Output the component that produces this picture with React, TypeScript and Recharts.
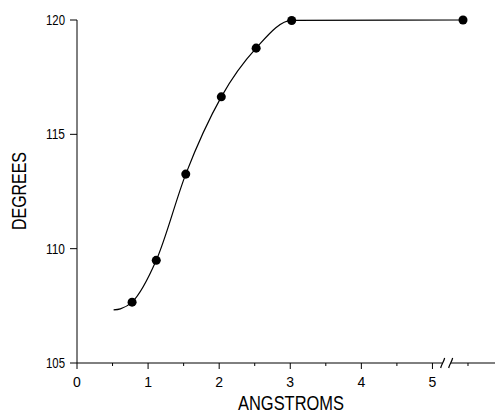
import React from "react";
import {
  ComposedChart,
  Line,
  Scatter,
  XAxis,
  YAxis,
  ReferenceLine,
  ReferenceDot,
  Label,
} from "recharts";

// measured points (angstroms, degrees)
const measuredX = [0.775, 1.115, 1.53, 2.03, 2.52, 3.02, 5.43];
const measuredY = [107.66, 109.49, 113.26, 116.64, 118.77, 119.98, 120];

// fitted curve
const curveX = [0.515, 0.61, 0.775, 1.115, 1.53, 2.03, 2.52, 3.02, 5.43];
const curveY = [107.32, 107.37, 107.66, 109.49, 113.26, 116.64, 118.77, 119.98, 120];

const xTicks = [0, 0.5, 1, 1.5, 2, 2.5, 3, 3.5, 4, 4.5, 5, 5.5];
const yTicks = [105, 110, 115, 120];

const points = measuredX.map((x, i) => ({ x, y: measuredY[i] }));
const curve = curveX.map((x, i) => ({ x, y: curveY[i] }));

const FONT = "'Liberation Sans', Arial, sans-serif";
const TICK_SIZE = 6;
const TICK_MARGIN = 4;

const XTick = (props: any) => {
  const { x, y, payload } = props;
  const v = payload.value;
  const major = Number.isInteger(v);
  const axisY = y - TICK_SIZE - TICK_MARGIN;
  return (
    <g>
      <line x1={x} x2={x} y1={axisY} y2={axisY + (major ? 6 : 3)} stroke="#000" strokeWidth={1} />
      {major && (
        <text x={x} y={axisY + 24} textAnchor="middle" fontFamily={FONT} fontSize={14} fill="#000">
          {v}
        </text>
      )}
    </g>
  );
};

const YTick = (props: any) => {
  const { x, y, payload } = props;
  return (
    <text
      x={x}
      y={y + 5}
      textAnchor="end"
      fontFamily={FONT}
      fontSize={14}
      fill="#000"
      textLength={19}
      lengthAdjust="spacingAndGlyphs"
    >
      {payload.value}
    </text>
  );
};

const BreakMark = (props: any) => {
  const { cx, cy } = props;
  const s = (dx: number) =>
    `M${cx + dx - 2},${cy + 5} C${cx + dx - 1},${cy + 1} ${cx + dx + 1},${cy - 1} ${cx + dx + 2},${cy - 5}`;
  return (
    <g>
      <path d={s(-4)} stroke="#000" strokeWidth={1.2} fill="none" />
      <path d={s(4)} stroke="#000" strokeWidth={1.2} fill="none" />
    </g>
  );
};

export default function App() {
  return (
    <div style={{ position: "absolute", left: 0, top: 0, background: "#fff" }}>
      <ComposedChart width={495} height={414} margin={{ top: 20, right: 0, bottom: 0, left: 0 }}>
        <XAxis
          type="number"
          dataKey="x"
          domain={[0, 5.88]}
          ticks={xTicks}
          interval={0}
          allowDataOverflow
          axisLine={false}
          tickLine={false}
          tickSize={TICK_SIZE}
          tickMargin={TICK_MARGIN}
          tick={<XTick />}
          height={51}
        >
          <Label
            content={() => (
              <text
                x={291}
                y={410}
                textAnchor="middle"
                fontFamily={FONT}
                fontSize={20}
                fill="#000"
                textLength={106}
                lengthAdjust="spacingAndGlyphs"
              >
                ANGSTROMS
              </text>
            )}
          />
        </XAxis>
        <YAxis
          type="number"
          domain={[105, 120]}
          ticks={yTicks}
          interval={0}
          width={77}
          axisLine={{ stroke: "#000" }}
          tickLine={{ stroke: "#000" }}
          tickSize={7}
          tickMargin={5}
          tick={<YTick />}
        >
          <Label
            content={() => (
              <text
                x={26}
                y={191}
                transform="rotate(-90, 26, 191)"
                textAnchor="middle"
                fontFamily={FONT}
                fontSize={20}
                fill="#000"
                textLength={78}
                lengthAdjust="spacingAndGlyphs"
              >
                DEGREES
              </text>
            )}
          />
        </YAxis>
        <ReferenceLine segment={[{ x: 0, y: 105 }, { x: 5.14, y: 105 }]} stroke="#000" strokeWidth={1} />
        <ReferenceLine segment={[{ x: 5.26, y: 105 }, { x: 5.88, y: 105 }]} stroke="#000" strokeWidth={1} />
        <ReferenceDot x={5.2} y={105} r={0} shape={<BreakMark />} />
        <Line
          data={curve}
          dataKey="y"
          type="monotone"
          stroke="#000"
          strokeWidth={1.2}
          dot={false}
          activeDot={false}
          isAnimationActive={false}
        />
        <Scatter data={points} dataKey="y" fill="#000" shape="circle" isAnimationActive={false} />
      </ComposedChart>
    </div>
  );
}
